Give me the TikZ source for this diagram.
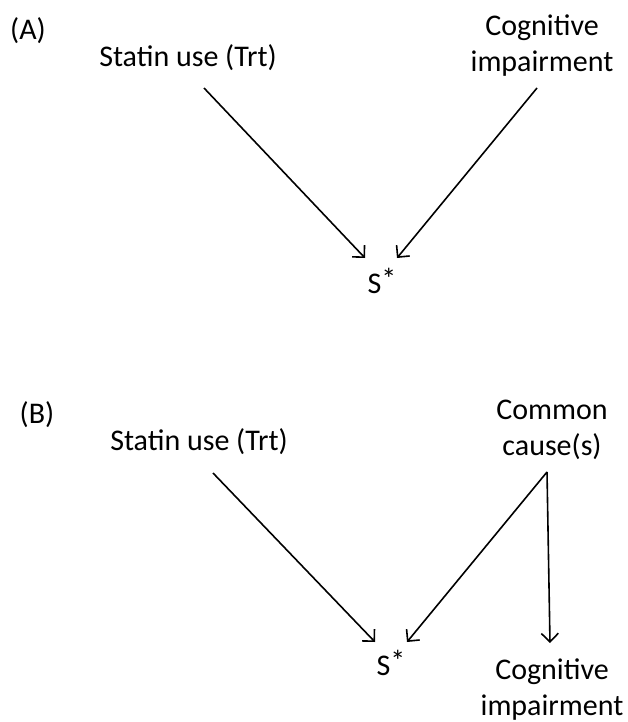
\documentclass[tikz,border=0pt]{standalone}
\usepackage{fontspec}
\setmainfont{Carlito}
\usetikzlibrary{arrows.meta}
\begin{document}
\begin{tikzpicture}[
    x=1pt, y=-1pt,
    every node/.style={align=center, inner sep=0pt, anchor=base, font=\fontsize{30}{36}\selectfont},
    causal arrow/.style={draw, line width=1.6pt, -{Straight Barb[length=8.5pt,width=17pt]}},
    ]
\useasboundingbox (0,0) rectangle (627,722);
% panel (A)
\node (A) at (28,40) {(A)};
\node (StatinA) at (188,67) {Statin use (Trt)};
\node (CogA) at (542,72) {Cognitive\\impairment};
\node (SA) at (382,293) {S\raisebox{4pt}{*}};
\draw[causal arrow] ([shift={(16,21)}]StatinA.base) -- ([shift={(-17,-35)}]SA.base);
\draw[causal arrow] ([shift={(-5,16)}]CogA.base) -- ([shift={(15,-35)}]SA.base);
% panel (B)
\node (B) at (37,423) {(B)};
\node (StatinB) at (199,450) {Statin use (Trt)};
\node (CommonB) at (552,455) {Common\\cause(s)};
\node (SB) at (391,675) {S\raisebox{4pt}{*}};
\node (CogB) at (552,715) {Cognitive\\impairment};
\draw[causal arrow] ([shift={(14,23)}]StatinB.base) -- ([shift={(-16,-33)}]SB.base);
\draw[causal arrow] ([shift={(-5,17)}]CommonB.base) -- ([shift={(16,-33)}]SB.base);
\draw[causal arrow] ([shift={(-5,17)}]CommonB.base) -- ([shift={(-2,-72)}]CogB.base);
\end{tikzpicture}
\end{document}
